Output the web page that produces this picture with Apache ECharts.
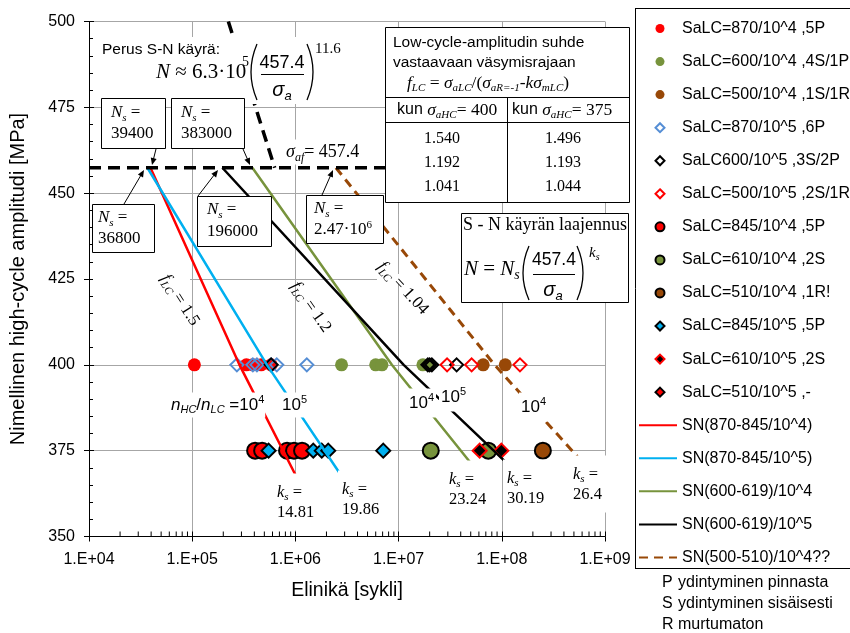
<!DOCTYPE html>
<html><head><meta charset="utf-8">
<script src="https://cdn.jsdelivr.net/npm/echarts@6/dist/echarts.min.js"></script>
<style>html,body{margin:0;padding:0;background:#fff}#c{width:850px;height:633px}</style>
</head><body><div id="c"></div>
<script>
// ---------------- data ----------------
const xTickLabels = ['1.E+04','1.E+05','1.E+06','1.E+07','1.E+08','1.E+09'];
const xMinorDecades = [1e4,1e5,1e6,1e7,1e8];
const xMinorMult = [2,3,4,5,6,7,8,9];
const yMin = 350, yMax = 500, yStep = 25;

// scatter: [cycles, amplitude MPa]
const sa870_1e4 = [[1.05e5,400],[3.35e5,400],[3.87e5,400],[4.66e5,400],[5.82e5,400]];
const sa600_1e4 = [[2.8e6,400],[6.0e6,400],[6.9e6,400],[1.72e7,400],[2.0e7,400]];
const sa500_1e4 = [[6.6e7,400],[1.08e8,400]];
const sa870_1e5 = [[2.71e5,400],[3.87e5,400],[4.24e5,400],[5.82e5,400],[6.6e5,400],[1.29e6,400]];
const sa600_1e5 = [[5.82e5,400],[1.92e7,400],[2.0e7,400],[2.1e7,400],[3.65e7,400]];
const sa500_1e5 = [[2.95e7,400],[5.1e7,400],[1.5e8,400]];
const sa845_1e4 = [[4.07e5,375],[4.76e5,375],[8.3e5,375],[9.7e5,375],[1.16e6,375]];
const sa610_1e4 = [[2.05e7,375],[7.4e7,375]];
const sa510_1e4 = [[2.5e8,375]];
const sa845_1e5 = [[5.5e5,375],[1.49e6,375],[1.8e6,375],[2.08e6,375],[7.1e6,375]];
const sa610_1e5 = [[6.1e7,375],[9.9e7,375]];
const sa510_1e5 = [];

// S-N lines
const sn870_1e4 = [[39400,457.4],[2.87e5,400],[1.0e6,368]];
const sn870_1e5 = [[36800,457.4],[5.3e5,400],[2.75e6,368]];
const sn600_1e4 = [[3.83e5,457.4],[8.6e6,400],[5.0e7,371.4]];
const sn600_1e5 = [[1.96e5,457.4],[1.12e7,400],[1.08e8,371.8]];
const sn500_1e4 = [[2.47e6,457.4],[8.5e7,400],[5.4e8,373.3]];
const basicSN = [[2.24e5,500],[6.3e5,457.4]];
const fatigueLimit = [[1e4,457.4],[3e7,457.4]];

// table / annotation values
const tableCol400 = ['1.540','1.192','1.041'];
const tableCol375 = ['1.496','1.193','1.044'];
const ksValues = ['14.81','19.86','23.24','30.19','26.4'];
const nsValues = ['39400','383000','36800','196000'];

// ---------------- styles ----------------
const SERIF = "'Liberation Serif','Times New Roman',serif";
const SANS = "'Liberation Sans',Arial,sans-serif";
const RED='#ff0000', GREEN='#77933c', BROWN='#984807', LBLUE='#558ed5', CYAN='#00b0f0';

function sc(name, data, symbol, size, fill, border, bw){
  return {name, type:'scatter', data, symbol, symbolSize:size, symbolKeepAspect:true,
    itemStyle:{color:fill, borderColor:border||fill, borderWidth:bw||0, opacity:1},
    emphasis:{disabled:true}, silent:true, z:3};
}
function ln(name, data, color, width, dash){
  return {name, type:'line', data, symbol:'none', showSymbol:false,
    lineStyle:{color, width, type:dash||'solid'}, itemStyle:{color},
    emphasis:{disabled:true}, silent:true, z:4};
}
const NONE='rgba(0,0,0,0)';
const series = [
  sc('SaLC=870/10^4 ,5P', sa870_1e4, 'circle', 13, RED),
  sc('SaLC=600/10^4 ,4S/1P', sa600_1e4, 'circle', 13, GREEN),
  sc('SaLC=500/10^4 ,1S/1R', sa500_1e4, 'circle', 13, BROWN),
  sc('SaLC=870/10^5 ,6P', sa870_1e5, 'diamond', 13, NONE, LBLUE, 2),
  sc('SaLC600/10^5 ,3S/2P', sa600_1e5, 'diamond', 13, NONE, '#000', 2),
  sc('SaLC=500/10^5 ,2S/1R', sa500_1e5, 'diamond', 13, NONE, RED, 2),
  sc('SaLC=845/10^4 ,5P', sa845_1e4, 'circle', 16, RED, '#000', 2),
  sc('SaLC=610/10^4 ,2S', sa610_1e4, 'circle', 16, GREEN, '#000', 2),
  sc('SaLC=510/10^4 ,1R!', sa510_1e4, 'circle', 16, BROWN, '#000', 2),
  sc('SaLC=845/10^5 ,5P', sa845_1e5, 'diamond', 14, CYAN, '#000', 2),
  sc('SaLC=610/10^5 ,2S', sa610_1e5, 'diamond', 14, '#000', RED, 2),
  sc('SaLC=510/10^5 ,-', sa510_1e5, 'diamond', 14, RED, '#000', 2),
  ln('SN(870-845/10^4)', sn870_1e4, RED, 2.5),
  ln('SN(870-845/10^5)', sn870_1e5, CYAN, 2.5),
  ln('SN(600-619)/10^4', sn600_1e4, GREEN, 2.5),
  ln('SN(600-619)/10^5', sn600_1e5, '#000', 2.5),
  ln('SN(500-510)/10^4??', sn500_1e4, BROWN, 3, [9,6]),
  ln('basic', basicSN, '#000', 3.5, [12,7]),
  ln('limit', fatigueLimit, '#000', 3.5, [12,7])
];
const legendScatter = series.slice(0,12).map(s=>({name:s.name}));
const legendLines = series.slice(12,17).map(s=>({name:s.name, itemStyle:{color:NONE, borderColor:NONE, borderWidth:0}}));

const minorTicks = [];
xMinorDecades.forEach(d=>xMinorMult.forEach(m=>minorTicks.push([d*m, yMin])));
series.push({type:'custom', silent:true, z:5, clip:false, data:minorTicks,
  renderItem:(p,api)=>{const pt=api.coord([api.value(0), yMin]);
    return {type:'line', shape:{x1:pt[0],y1:pt[1],x2:pt[0],y2:pt[1]-5}, style:{stroke:'#000',lineWidth:1}};}});

// ---------------- graphic helpers ----------------
const G=[];
function R(s, L){
  L = L || Math.round(s*1.25); const ss=Math.round(s*0.65);
  return {
    r:{fontFamily:SERIF,fontSize:s,lineHeight:L},
    i:{fontFamily:SERIF,fontSize:s,fontStyle:'italic',lineHeight:L},
    sub:{fontFamily:SERIF,fontSize:ss,fontStyle:'italic',lineHeight:ss,verticalAlign:'bottom'},
    sup:{fontFamily:SERIF,fontSize:ss,lineHeight:ss,verticalAlign:'top'},
    s:{fontFamily:SANS,fontSize:Math.round(s*0.92),lineHeight:L},
    sr:{fontFamily:SANS,fontSize:s,lineHeight:L},
    si:{fontFamily:SANS,fontSize:s,fontStyle:'italic',lineHeight:L},
    ssub:{fontFamily:SANS,fontSize:ss,fontStyle:'italic',lineHeight:ss,verticalAlign:'bottom'},
    ssup:{fontFamily:SANS,fontSize:ss,lineHeight:ss,verticalAlign:'top'}
  };
}
function T(x,y,text,o){
  o=o||{};
  const st={text, fill:'#000', align:o.align||'left', verticalAlign:o.va||'middle',
    textAlign:o.align||'left', textVerticalAlign:o.va||'middle'};
  if(o.font) st.font=o.font;
  if(o.rich) st.rich=o.rich;
  if(o.bg){st.backgroundColor=o.bg; st.padding=o.pad||[1,1];}
  G.push({type:'text', z:o.z||10, x, y, rotation:o.rot||0, silent:true, style:st});
}
function RECT(x,y,w,h,o){
  o=o||{};
  G.push({type:'rect', z:o.z||10, silent:true, shape:{x,y,width:w,height:h},
    style:{fill:o.fill===undefined?'#fff':o.fill, stroke:o.stroke||null, lineWidth:o.lw||1}});
}
function LINE(x1,y1,x2,y2,o){
  o=o||{};
  G.push({type:'line', z:o.z||10, silent:true, shape:{x1,y1,x2,y2}, style:{stroke:'#000', lineWidth:o.lw||1}});
}
function ARROW(x1,y1,x2,y2){
  const a=Math.atan2(y2-y1,x2-x1), L=7, W=3;
  LINE(x1,y1,x2-3*Math.cos(a),y2-3*Math.sin(a));
  G.push({type:'polygon', z:10, silent:true, shape:{points:[[x2,y2],
    [x2-L*Math.cos(a)+W*Math.sin(a), y2-L*Math.sin(a)-W*Math.cos(a)],
    [x2-L*Math.cos(a)-W*Math.sin(a), y2-L*Math.sin(a)+W*Math.cos(a)]]}, style:{fill:'#000'}});
}
function PAREN(x, y1, y2, cpx){
  G.push({type:'bezierCurve', z:10, silent:true, shape:{x1:x,y1,x2:x,y2,cpx1:cpx,cpy1:(y1+y2)/2},
    style:{stroke:'#000', lineWidth:1.3, fill:null}});
}

// grid-line gaps (white boxes under series)
RECT(93,274,97,10,{z:1});
RECT(377,274,84,10,{z:1});

// basic S-N formula
RECT(96,37,252,67,{z:5});
T(102,50,'Perus S-N käyrä:',{font:`15.5px ${SANS}`});
T(156,72,'{i|N}{r| ≈ 6.3·10}',{rich:R(21)});
T(242,62,'5',{font:`14px ${SERIF}`});
PAREN(257,44,100,245);
T(282,63,'457.4',{font:`18px ${SANS}`, align:'center'});
LINE(261,74.5,304,74.5);
T(282,90,'{si|σ}{ssub|a}',{rich:R(20), align:'center'});
PAREN(307,44,100,319);
T(315,49,'11.6',{font:`15px ${SERIF}`});

// sigma_af
T(284,152,'{i|σ}{sub|af}{r|= 457.4}',{rich:R(18), bg:'#fff', pad:[1,2]});

// Ns boxes
function NSBOX(x,y,w,h,tx,ty1,ty2,val,isRich){
  RECT(x+0.5,y+0.5,w,h,{stroke:'#000'});
  T(tx,ty1,'{i|N}{sub|s}{r| =}',{rich:R(17)});
  if(isRich) T(tx,ty2,val,{rich:R(17)}); else T(tx,ty2,val,{font:`17px ${SERIF}`});
}
NSBOX(101,98,64,50,111,113,134,nsValues[0]);
NSBOX(171,98,73,50,181,113,134,nsValues[1]);
NSBOX(92,204,62,48,98,218,239,nsValues[2]);
NSBOX(197,196,74,50,207,210,232,nsValues[3]);
NSBOX(306,195,77,48,314,209,230,'{r|2.47·10}{sup|6}',true);
ARROW(156,149,152,165);
ARROW(243,149,250,165);
ARROW(124,204,144,170);
ARROW(198,196,218,170);
ARROW(322,195,333,170);

// table
RECT(385.5,27.5,244,175,{stroke:'#000'});
LINE(385,97.5,630,97.5); LINE(385,122.5,630,122.5); LINE(507.5,97,507.5,203);
T(393,43,'Low-cycle-amplitudin suhde',{font:`15.5px ${SANS}`});
T(393,63,'vastaavaan väsymisrajaan',{font:`15.5px ${SANS}`});
T(407,83,'{i|f}{sub|LC}{r| = }{i|σ}{sub|aLC}{r|/(}{i|σ}{sub|aR=-1}{r|-}{i|kσ}{sub|mLC}{r|)}',{rich:R(17.5)});
T(397,110,'{s|kun }{i|σ}{sub|aHC}{r|= 400}',{rich:R(17.5)});
T(512,110,'{s|kun }{i|σ}{sub|aHC}{r|= 375}',{rich:R(17.5)});
[139,163,187].forEach((y,k)=>{
  T(442,y,tableCol400[k],{font:`16px ${SERIF}`, align:'center'});
  T(563,y,tableCol375[k],{font:`16px ${SERIF}`, align:'center'});
});

// S-N extension box
RECT(461.5,213.5,167,89,{stroke:'#000'});
T(545,225,'S - N käyrän laajennus',{font:`18px ${SERIF}`, align:'center'});
T(464,269,'{i|N}{r| = }{i|N}{sub|s}',{rich:R(21)});
PAREN(529,246,300,517);
T(554,260,'457.4',{font:`17.5px ${SANS}`, align:'center'});
LINE(533,274.5,575,274.5);
T(553,290,'{si|σ}{ssub|a}',{rich:R(20), align:'center'});
PAREN(577,246,300,589);
T(589,253,'{i|k}{sub|s}',{rich:R(15)});

// f_LC labels
T(180,300,'{i|f}{sub|LC}{r| = 1.5}',{rich:R(17), align:'center', rot:-1.0});
T(311,307,'{i|f}{sub|LC}{r| = 1.2}',{rich:R(17), align:'center', rot:-0.96});
T(403,288,'{i|f}{sub|LC}{r| = 1.04}',{rich:R(17), align:'center', rot:-0.82});

// n_HC/n_LC labels
T(170,405,'{si|n}{ssub|HC}{sr|/}{si|n}{ssub|LC}{sr| =10}{ssup|4}',{rich:R(17), bg:'#fff', pad:[2,1]});
T(281,405,'{sr|10}{ssup|5}',{rich:R(17), bg:'#fff', pad:[2,1]});
T(407,403,'{sr|10}{ssup|4}',{rich:R(17), bg:'#fff', pad:[4,2]});
T(439,397,'{sr|10}{ssup|5}',{rich:R(17), bg:'#fff', pad:[4,2]});
T(519,407,'{sr|10}{ssup|4}',{rich:R(17), bg:'#fff', pad:[4,2]});

// k_s labels
function KS(x,y,val,padR){
  T(x,y,'{i|k}{sub|s}{r| =}\n{r|'+val+'}',{rich:R(16.5,20), bg:'#fff', pad:[9,padR||4,8,4]});
}
KS(273,502,ksValues[0]);
KS(338,499,ksValues[1]);
KS(445,489,ksValues[2]);
KS(503,488,ksValues[3]);
KS(569,484,ksValues[4],10);

// axis titles
T(18,279,'Nimellinen high-cycle amplitudi [MPa]',{font:`20px ${SANS}`, align:'center', rot:Math.PI/2});
T(347,591,'Elinikä [sykli]',{font:`19.5px ${SANS}`, align:'center'});

// legend frame & notes
LINE(635.5,8,635.5,569,{z:0}); LINE(635,8.5,850,8.5,{z:0}); LINE(635,568.5,850,568.5,{z:0});
T(662,583,'P',{font:`16px ${SANS}`}); T(678,583,'ydintyminen pinnasta',{font:`16px ${SANS}`});
T(662,604,'S',{font:`16px ${SANS}`}); T(678,604,'ydintyminen sisäisesti',{font:`16px ${SANS}`});
T(662,625,'R',{font:`16px ${SANS}`}); T(678,625,'murtumaton',{font:`16px ${SANS}`});

// ---------------- chart ----------------
const axisX = (extra)=>Object.assign({type:'log', logBase:10, min:1e4, max:1e9, splitNumber:5, gridIndex:0, position:'bottom', offset:0}, extra);
const axisY = (extra)=>Object.assign({type:'value', min:yMin, max:yMax, interval:yStep, gridIndex:0, position:'left', offset:0}, extra);
const PITCH = 33.06;
const legTxt = {color:'#000', fontSize:16, fontFamily:SANS, lineHeight:16};

const chart = echarts.init(document.getElementById('c'), null, {renderer:'canvas'});
chart.setOption({
  animation:false,
  backgroundColor:'#fff',
  grid:{left:89, right:245, top:21.5, bottom:96.5, containLabel:false},
  xAxis:[
    axisX({axisLine:{show:true, lineStyle:{color:'#000', width:1}},
      axisTick:{show:true, inside:true, length:5, lineStyle:{color:'#000'}},
      axisLabel:{show:true, color:'#000', fontSize:16, fontFamily:SANS, margin:15,
        formatter:v=>xTickLabels[Math.round(Math.log10(v))-4]},
      splitLine:{show:true, lineStyle:{color:'#a6a6a6', width:1}}}),
    axisX({axisLine:{show:false}, axisTick:{show:true, inside:false, length:5, lineStyle:{color:'#000'}},
      axisLabel:{show:false}, splitLine:{show:false}})
  ],
  yAxis:[
    axisY({axisLine:{show:true, lineStyle:{color:'#000', width:1}},
      axisTick:{show:true, inside:true, length:5, lineStyle:{color:'#000'}},
      minorTick:{show:true, splitNumber:5, length:4, lineStyle:{color:'#000'}},
      axisLabel:{show:true, color:'#000', fontSize:16, fontFamily:SANS, margin:14},
      splitLine:{show:true, lineStyle:{color:'#a6a6a6', width:1}}}),
    axisY({axisLine:{show:false}, axisTick:{show:true, inside:false, length:5, lineStyle:{color:'#000'}},
      axisLabel:{show:false}, splitLine:{show:false}})
  ],
  legend:[
    {data:legendScatter, orient:'vertical', left:654.5, top:20.5, padding:0,
     itemWidth:9, itemHeight:9, itemGap:PITCH-16, selectedMode:false,
     textStyle:Object.assign({padding:[0,0,0,12.5]}, legTxt)},
    {data:legendLines, orient:'vertical', left:638, top:20.5+12*PITCH, padding:0,
     itemWidth:38, itemHeight:9, itemGap:PITCH-16, selectedMode:false,
     textStyle:legTxt}
  ],
  graphic:{elements:G},
  series
});
</script>
</body></html>
